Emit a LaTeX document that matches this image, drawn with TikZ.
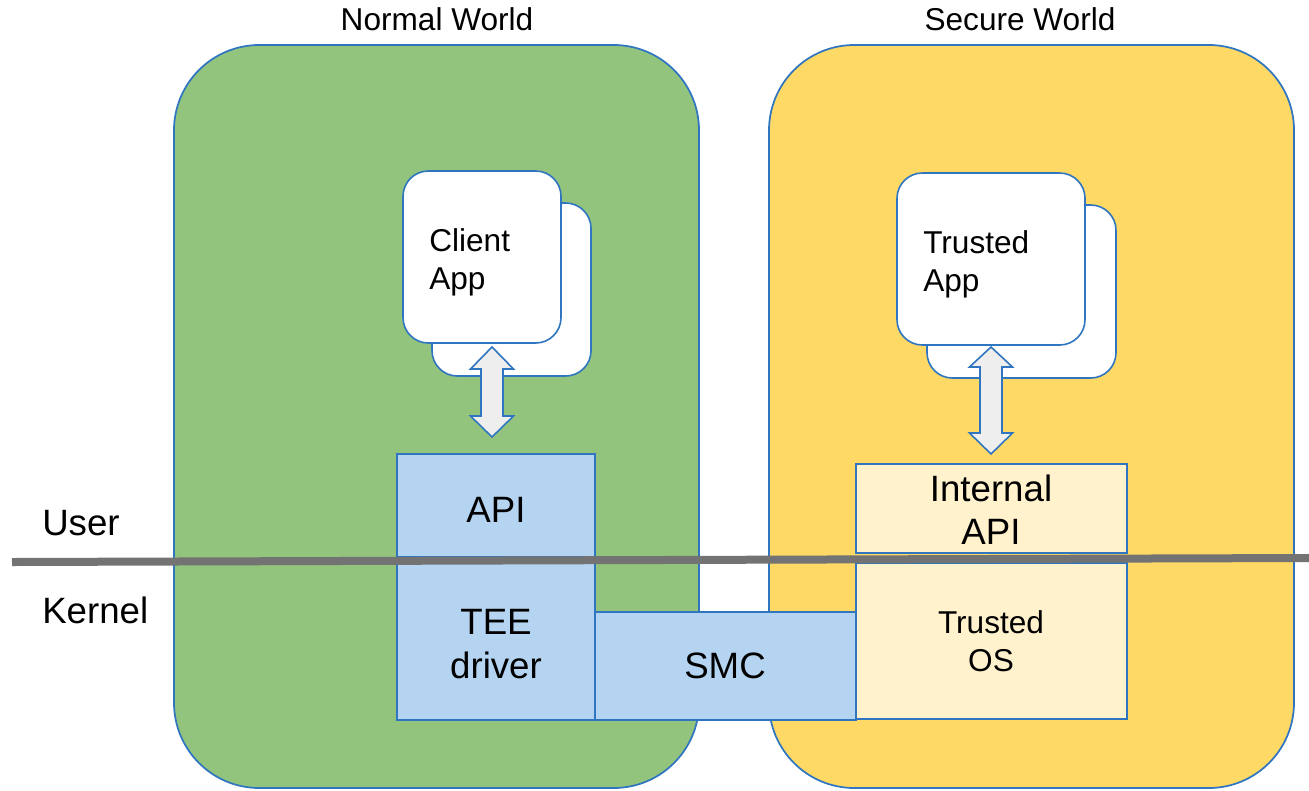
\documentclass[tikz,border=0pt]{standalone}
\usepackage{fontspec}
\setmainfont{Liberation Sans}
\usetikzlibrary{fit}
\definecolor{bordblue}{HTML}{2F75C0}
\definecolor{nwgreen}{HTML}{93C47D}
\definecolor{swyellow}{HTML}{FFD966}
\definecolor{lblue}{HTML}{B4D4F1}
\definecolor{lyellow}{HTML}{FFF2CC}
\definecolor{arrowfill}{HTML}{EEEEEE}
\definecolor{linegray}{HTML}{737373}
\tikzset{
  world/.style={draw=bordblue, line width=1.3pt, rounded corners=64pt, inner sep=0pt},
  appbox/.style={draw=bordblue, line width=1.2pt, rounded corners=19pt, fill=white, inner sep=0pt},
  blk/.style={draw=bordblue, line width=1.2pt, inner sep=0pt, font=\fontsize{27.5}{32.5}\selectfont, align=center},
  small/.style={font=\fontsize{23.7}{28.5}\selectfont, inner sep=0pt},
  big/.style={font=\fontsize{27.5}{32.5}\selectfont, inner sep=0pt},
  blockarrow/.style={draw=bordblue, line width=1.2pt, fill=arrowfill, line join=miter},
}
\begin{document}
\begin{tikzpicture}[x=0.75pt,y=-0.75pt]
\useasboundingbox (0,0) rectangle (1309,790);
% worlds
\node[world, fill=nwgreen, fit={(174,45) (699,788)}] (normal) {};
\node[world, fill=swyellow, fit={(769,45) (1294,788)}] (secure) {};
\node[small] (nwlabel) at (437,19) {Normal World};
\node[small] (swlabel) at (1020,19) {Secure World};
% apps
\node[appbox, fit={(432,203) (591,376)}] (caback) {};
\node[appbox, fit={(403,171) (561,343)}] (ca) {};
\node[small, align=left, anchor=west] (catext) at (429,262) {Client\\App};
\node[appbox, fit={(927,205) (1116,378)}] (taback) {};
\node[appbox, fit={(897,173) (1085,345)}] (ta) {};
\node[small, align=left, anchor=west] (tatext) at (923,264) {Trusted\\App};
% block arrows
\coordinate (a1t) at (492,347);
\coordinate (a1b) at (492,437);
\draw[blockarrow] (a1t) -- ++(21.5,22) -- ++(-10.5,0) -- ++(0,47) -- ++(10.5,0) -- (a1b)
  -- ++(-21.5,-21) -- ++(10.5,0) -- ++(0,-47) -- ++(-10.5,0) -- cycle;
\coordinate (a2t) at (991,347);
\coordinate (a2b) at (991,454);
\draw[blockarrow] (a2t) -- ++(21.5,20) -- ++(-10.5,0) -- ++(0,66) -- ++(10.5,0) -- (a2b)
  -- ++(-21.5,-21) -- ++(10.5,0) -- ++(0,-66) -- ++(-10.5,0) -- cycle;
% blocks
\node[blk, fill=lblue, fit={(397,454) (595,557)}] (api) {};
\node[big] at (496,510) {API};
\node[blk, fill=lblue, fit={(397,563) (595,720)}] (tee) {};
\node[big, align=center] at (496,644) {TEE\\driver};
\node[blk, fill=lblue, fit={(595,612) (856,720)}] (smc) {};
\node[big] at (725,666) {SMC};
\node[blk, fill=lyellow, fit={(856,464) (1127,553)}] (iapi) {};
\node[big, align=center] at (991,510) {Internal\\API};
\node[blk, fill=lyellow, fit={(856,563) (1127,719)}] (tos) {};
\node[small, align=center] at (991,641) {Trusted\\OS};
% user/kernel line
\coordinate (l1) at (12,562);
\coordinate (l2) at (1309,558);
\draw[linegray, line width=6pt] (l1) -- (l2);
\node[big, anchor=west] (user) at (42,523) {User};
\node[big, anchor=west] (kernel) at (42,610) {Kernel};
\end{tikzpicture}
\end{document}
